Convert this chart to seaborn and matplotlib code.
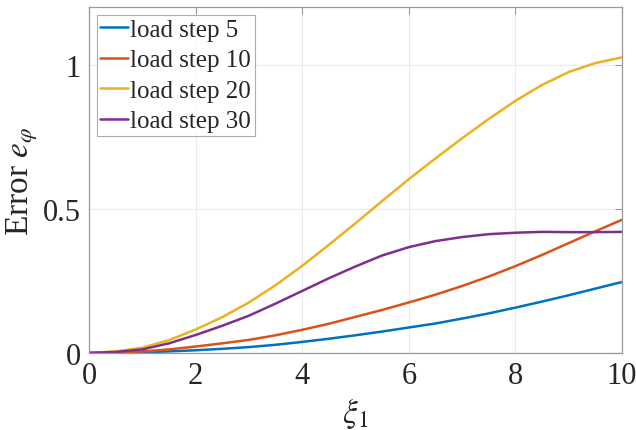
import numpy as np
import pandas as pd
import matplotlib
matplotlib.use("Agg")
import matplotlib.pyplot as plt
import seaborn as sns

# Spatial coordinate xi_1
xi = [0.0, 0.5, 1.0, 1.5, 2.0, 2.5, 3.0, 3.5, 4.0, 4.5, 5.0,
      5.5, 6.0, 6.5, 7.0, 7.5, 8.0, 8.5, 9.0, 9.5, 10.0]

# Error e_phi for each load step
err_step5 = [0.0, 0.001, 0.002, 0.005, 0.009, 0.014, 0.020, 0.028, 0.038, 0.049, 0.061,
             0.074, 0.088, 0.102, 0.119, 0.137, 0.157, 0.178, 0.200, 0.223, 0.246]
err_step10 = [0.0, 0.001, 0.005, 0.012, 0.022, 0.033, 0.045, 0.061, 0.080, 0.101, 0.125,
              0.149, 0.175, 0.202, 0.232, 0.265, 0.301, 0.340, 0.381, 0.422, 0.462]
err_step20 = [0.0, 0.005, 0.018, 0.044, 0.081, 0.124, 0.175, 0.235, 0.302, 0.375, 0.450,
              0.527, 0.603, 0.675, 0.745, 0.812, 0.875, 0.930, 0.975, 1.006, 1.026]
err_step30 = [0.0, 0.003, 0.012, 0.033, 0.062, 0.094, 0.129, 0.171, 0.215, 0.259, 0.300,
              0.338, 0.367, 0.388, 0.402, 0.412, 0.417, 0.420, 0.419, 0.419, 0.420]

labels = ["load step 5", "load step 10", "load step 20", "load step 30"]
colors = ["#0072BD", "#D95319", "#EDB120", "#7E2F8E"]

x_ticks = [0, 2, 4, 6, 8, 10]
y_ticks = [0, 0.5, 1]
y_ticklabels = ["0", "0.5", "1"]

df = pd.concat([
    pd.DataFrame({"xi": xi, "err": vals, "series": lab})
    for vals, lab in zip([err_step5, err_step10, err_step20, err_step30], labels)
], ignore_index=True)

sns.set_theme(style="white")
plt.rcParams["font.family"] = ["Liberation Serif", "DejaVu Serif"]
plt.rcParams["mathtext.fontset"] = "stix"

fig = plt.figure(figsize=(6.36, 4.31), dpi=100)
ax = fig.add_axes([0.140, 0.179, 0.838, 0.802])

sns.lineplot(data=df, x="xi", y="err", hue="series", hue_order=labels,
             palette=colors, linewidth=1.8, ax=ax, sort=True)
for ln in ax.get_lines():
    ln.set_solid_joinstyle("round")

ax.set_xlim(0, 10)
ax.set_ylim(0, 1.2)
ax.set_xticks(x_ticks)
ax.set_yticks(y_ticks)
ax.set_yticklabels(y_ticklabels)
ax.grid(True, color="#ebebeb", linewidth=0.8)
ax.set_axisbelow(True)

spine_color = "#9a9a9a"
for s in ax.spines.values():
    s.set_visible(True)
    s.set_color(spine_color)
    s.set_linewidth(0.9)
ax.tick_params(direction="in", length=5, width=0.8, color=spine_color,
               top=True, right=True, labelsize=22, labelcolor="#262626", pad=6)

ax.set_xlabel(r"$\xi_1$", fontsize=24, color="#262626", labelpad=4)
ax.set_ylabel(r"Error $e_\varphi$", fontsize=24, color="#262626", labelpad=2)

leg = ax.legend(loc="upper left", fontsize=18, frameon=True, fancybox=False,
                handlelength=1.1, handletextpad=0.1, borderpad=0.15,
                labelspacing=0.32, borderaxespad=0.3)
leg.get_frame().set_edgecolor("#9a9a9a")
leg.get_frame().set_linewidth(0.8)
for ln in leg.get_lines():
    ln.set_linewidth(1.8)
for t in leg.get_texts():
    t.set_color("#262626")

fig.savefig("out.png", dpi=100)
